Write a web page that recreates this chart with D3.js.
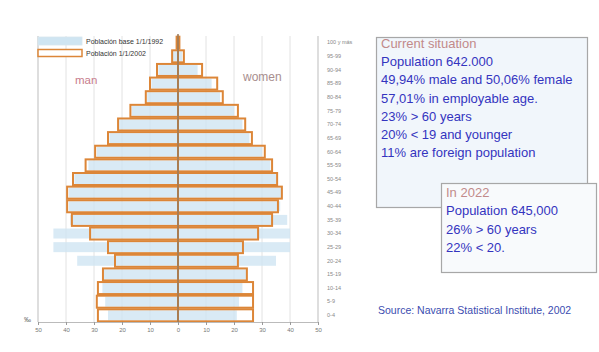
<!DOCTYPE html>
<html><head><meta charset="utf-8">
<script src="https://cdnjs.cloudflare.com/ajax/libs/d3/7.8.5/d3.min.js"></script>
<style>
html,body{margin:0;padding:0;background:#fff;}
svg{display:block;font-family:"Liberation Sans",Arial,sans-serif;}
</style></head>
<body><svg id="c" width="599" height="352"></svg>
<script>
const ages = ["100 y más","95-99","90-94","85-89","80-84","75-79","70-74","65-69","60-64","55-59","50-54","45-49","40-44","35-39","30-34","25-29","20-24","15-19","10-14","5-9","0-4"];
// 2002 (orange outline)
const men2002   = [0.5,2.1,7.5,10,11.5,17,21.4,25,29.6,33,37.5,39.6,39.6,37.9,31.4,25,22.5,26.8,28.6,29,28.6];
const women2002 = [0.5,2.1,8.6,14,16,21.4,24,26.4,31,33.6,35.4,37.1,35.7,33.6,28.6,23.2,21.4,24.6,26.8,26.8,26.8];
// 1992 (light blue fill)
const men1992   = [0.3,1.8,7,9.5,11,16.5,21,24.5,29,32,37,39,39,38.5,44.5,44.5,36,26.8,27,26,25];
const women1992 = [0.3,1.5,7,12,15,20,23,25.5,30,33,35,37,36.5,39,40,40,35,24.6,23,21.8,21];
const xTicks = [-50,-40,-30,-20,-10,0,10,20,30,40,50];
const legendLabels = ["Población base 1/1/1992","Población 1/1/2002"];
const box1Lines = ["Current situation","Population 642.000","49,94% male and 50,06% female","57,01% in employable age.","23% > 60 years","20% < 19 and younger","11% are foreign population"];
const box2Lines = ["In 2022","Population 645,000","26% > 60 years","22% < 20."];
const sourceText = "Source: Navarra Statistical Institute, 2002";

const svg = d3.select("#c");
const x = d3.scaleLinear().domain([-50,50]).range([38,318]);
const y = d3.scaleBand().domain(ages).range([36,322]).paddingInner(0.12).paddingOuter(0.05);

const ORANGE = "#dc8638", BLUE = "#cfe5f2";

// gridlines
svg.append("g").selectAll("line").data(xTicks.filter(d=>d!==0)).join("line")
  .attr("x1",d=>x(d)).attr("x2",d=>x(d)).attr("y1",36).attr("y2",322)
  .attr("stroke",d=>Math.abs(d)===50?"#bdbdbd":"#e2e2e2").attr("stroke-width",1);

// blue bars (1992)
const gB = svg.append("g");
gB.selectAll(".bm").data(ages).join("rect")
  .attr("x",(d,i)=>x(-men1992[i])).attr("width",(d,i)=>x(0)-x(-men1992[i]))
  .attr("y",d=>y(d)+1).attr("height",y.bandwidth()-2).attr("fill",BLUE).attr("opacity",0.8);
gB.selectAll(".bw").data(ages).join("rect")
  .attr("x",x(0)).attr("width",(d,i)=>x(women1992[i])-x(0))
  .attr("y",d=>y(d)+1).attr("height",y.bandwidth()-2).attr("fill",BLUE).attr("opacity",0.8);

// orange bars (2002)
const gO = svg.append("g");
gO.selectAll(".om").data(ages).join("rect")
  .attr("x",(d,i)=>x(-men2002[i])).attr("width",(d,i)=>x(0)-x(-men2002[i]))
  .attr("y",d=>y(d)).attr("height",y.bandwidth()).attr("fill","none")
  .attr("stroke",ORANGE).attr("stroke-width",2);
gO.selectAll(".ow").data(ages).join("rect")
  .attr("x",x(0)).attr("width",(d,i)=>x(women2002[i])-x(0))
  .attr("y",d=>y(d)).attr("height",y.bandwidth()).attr("fill","none")
  .attr("stroke",ORANGE).attr("stroke-width",2);

// center line
svg.append("line").attr("x1",x(0)).attr("x2",x(0)).attr("y1",34).attr("y2",322)
  .attr("stroke","#9a7a5a").attr("stroke-width",1.5);

// bottom axis
const ax = svg.append("g").attr("transform","translate(0,322)")
  .call(d3.axisBottom(x).tickValues(xTicks).tickFormat(d=>Math.abs(d)).tickSize(3).tickPadding(3));
ax.select(".domain").attr("stroke","#bbb");
ax.selectAll(".tick line").attr("stroke","#999");
ax.selectAll("text").attr("fill","#777").style("font-size","6px").style("font-family","Liberation Sans, Arial, sans-serif");

// right age axis
const ay = svg.append("g").attr("transform","translate(318,0)")
  .call(d3.axisRight(y).tickSize(0).tickPadding(9));
ay.select(".domain").remove();
ay.selectAll("text").attr("fill","#888").style("font-size","5.5px").style("font-family","Liberation Sans, Arial, sans-serif");

svg.append("text").attr("x",24).attr("y",322).attr("fill","#666").style("font-size","7px").text("‰");

// legend
svg.append("rect").attr("x",38).attr("y",37).attr("width",44).attr("height",8).attr("fill",BLUE).attr("stroke","#d8e6ee").attr("stroke-width",0.8);
svg.append("rect").attr("x",38).attr("y",49.5).attr("width",44).attr("height",7).attr("fill","#fff").attr("stroke",ORANGE).attr("stroke-width",1.5);
svg.selectAll(".lg").data(legendLabels).join("text")
  .attr("x",86).attr("y",(d,i)=>44+i*12).attr("fill","#333").style("font-size","7px").text(d=>d);

svg.append("text").attr("x",75).attr("y",84).attr("fill","#c77c8c").style("font-size","11.5px").text("man");
svg.append("text").attr("x",243).attr("y",81).attr("fill","#a88e8e").style("font-size","12px").text("women");

// text box 1
svg.append("rect").attr("x",376.5).attr("y",37.5).attr("width",211).attr("height",170)
  .attr("fill","#f1f6fb").attr("stroke","#a7a7a7").attr("stroke-width",1.2);
svg.selectAll(".b1").data(box1Lines).join("text")
  .attr("x",381).attr("y",(d,i)=>48+i*18.2)
  .attr("fill",(d,i)=>i===0?"#c28a8a":"#3434bf").style("font-size","13px").text(d=>d);

// text box 2
svg.append("rect").attr("x",441.5).attr("y",183.5).attr("width",155).attr("height",89)
  .attr("fill","#f8fafc").attr("stroke","#a7a7a7").attr("stroke-width",1.2);
svg.selectAll(".b2").data(box2Lines).join("text")
  .attr("x",446).attr("y",(d,i)=>196.5+i*18.6)
  .attr("fill",(d,i)=>i===0?"#c28a8a":"#3434bf").style("font-size","13px").text(d=>d);

svg.append("text").attr("x",378).attr("y",314).attr("fill","#3b4db0").style("font-size","10.5px").text(sourceText);
</script></body></html>
